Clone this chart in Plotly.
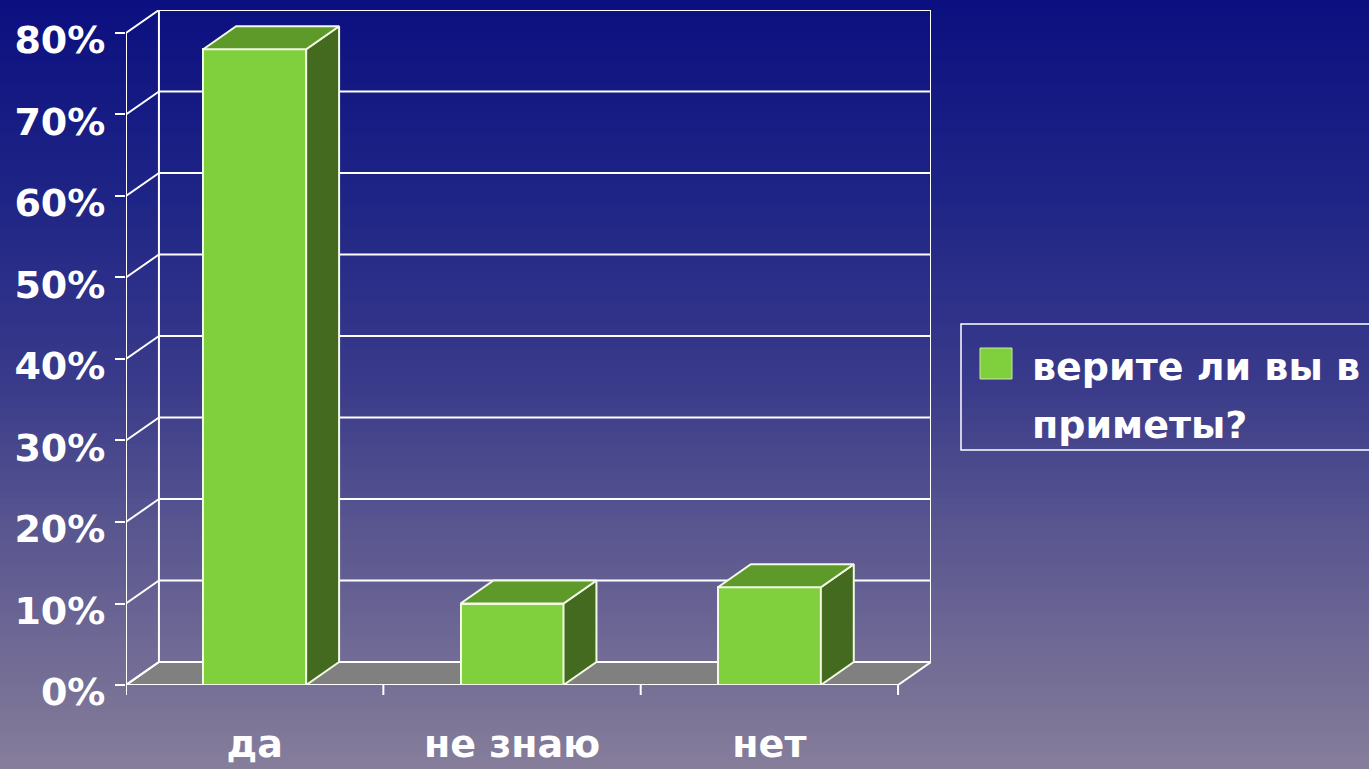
import plotly.graph_objects as go

# ---------------- data ----------------
categories = ["да", "не знаю", "нет"]
values = [78, 10, 12]                      # percent
y_ticks = [0, 10, 20, 30, 40, 50, 60, 70, 80]
y_tick_text = [f"{v}%" for v in y_ticks]
legend_lines = ["верите ли вы в", "приметы?"]

# ---------------- style / geometry ----------------
W, H = 1369, 769
FONT = "DejaVu Sans"
BAR_W = 0.4          # bar width in category units
DX = 0.128           # 3D depth offset (category units)
DY = 2.82            # 3D depth offset (percent units)
YMAX = y_ticks[-1]
NCAT = len(categories)

FRONT = "#80cf3c"
SIDE = "#436a1e"
TOPC = "#5e9a2a"
EDGE = "#f2fae6"
FLOOR = "#808080"
WHITE = "#ffffff"

# plot-area placement (pixels)
PX_LEFT, PX_RIGHT = 126, 931
PX_TOP, PX_BOTTOM = 10, 685


def px(x):
    return x / W


def py(y):
    return 1 - y / H


# background gradient stops (pixel y, rgb)
stops = [(0, (11, 15, 128)), (200, (31, 37, 134)), (380, (57, 58, 138)),
         (540, (91, 88, 144)), (769, (134, 126, 154))]


def grad(y):
    for (y0, c0), (y1, c1) in zip(stops[:-1], stops[1:]):
        if y0 <= y <= y1:
            t = (y - y0) / (y1 - y0)
            return "rgb(%d,%d,%d)" % tuple(round(a + (b - a) * t) for a, b in zip(c0, c1))
    return "rgb(%d,%d,%d)" % stops[-1][1]


shapes = []
STEP = 6
for y0 in range(0, H, STEP):
    shapes.append(dict(type="rect", xref="paper", yref="paper", layer="below",
                       x0=0, x1=1, y0=py(y0 + STEP + 1), y1=py(y0),
                       fillcolor=grad(y0 + STEP / 2), line=dict(width=0)))

LW = 2
# back wall gridlines
for v in y_ticks:
    shapes.append(dict(type="line", xref="x", yref="y", layer="below",
                       x0=DX, x1=NCAT + DX, y0=v + DY, y1=v + DY,
                       line=dict(color=WHITE, width=LW)))
# back wall edges
for xv in (DX, NCAT + DX):
    shapes.append(dict(type="line", xref="x", yref="y", layer="below",
                       x0=xv, x1=xv, y0=DY, y1=YMAX + DY,
                       line=dict(color=WHITE, width=LW)))
# floor
shapes.append(dict(type="path", xref="x", yref="y", layer="below",
                   path=f"M 0 0 L {NCAT} 0 L {NCAT + DX} {DY} L {DX} {DY} Z",
                   fillcolor=FLOOR, line=dict(color=WHITE, width=LW)))
# left side wall diagonals
for v in y_ticks:
    shapes.append(dict(type="line", xref="x", yref="y", layer="below",
                       x0=0, x1=DX, y0=v, y1=v + DY,
                       line=dict(color=WHITE, width=LW)))
# front value axis line
shapes.append(dict(type="line", xref="x", yref="y", layer="below",
                   x0=0, x1=0, y0=0, y1=YMAX, line=dict(color=WHITE, width=LW)))
# category boundary ticks below the floor
for k in range(NCAT + 1):
    shapes.append(dict(type="line", xref="x", yref="paper", layer="above",
                       x0=k, x1=k, y0=py(PX_BOTTOM), y1=py(PX_BOTTOM + 10),
                       line=dict(color=WHITE, width=LW)))

# legend box (manual, to match the large symbol)
shapes.append(dict(type="rect", xref="paper", yref="paper",
                   x0=px(961), x1=px(1380), y0=py(450), y1=py(324),
                   line=dict(color=WHITE, width=1.5), fillcolor="rgba(0,0,0,0)"))
shapes.append(dict(type="rect", xref="paper", yref="paper",
                   x0=px(980), x1=px(1012), y0=py(379), y1=py(348),
                   line=dict(color="#c8e8a8", width=1), fillcolor=FRONT))

fig = go.Figure()

centers = [i + 0.5 for i in range(NCAT)]

# front faces
fig.add_trace(go.Bar(x=centers, y=values, width=BAR_W, name=" ".join(legend_lines),
                     marker=dict(color=FRONT, line=dict(color=EDGE, width=2)),
                     showlegend=False, hoverinfo="skip"))

# side and top faces from the same values
for xc, v in zip(centers, values):
    xr = xc + BAR_W / 2
    xl = xc - BAR_W / 2
    fig.add_trace(go.Scatter(x=[xr, xr + DX, xr + DX, xr, xr],
                             y=[0, DY, v + DY, v, 0],
                             fill="toself", fillcolor=SIDE, mode="lines",
                             line=dict(color=EDGE, width=2),
                             showlegend=False, hoverinfo="skip"))
    fig.add_trace(go.Scatter(x=[xl, xl + DX, xr + DX, xr, xl],
                             y=[v, v + DY, v + DY, v, v],
                             fill="toself", fillcolor=TOPC, mode="lines",
                             line=dict(color=EDGE, width=2),
                             showlegend=False, hoverinfo="skip"))

annotations = [
    dict(xref="paper", yref="paper", x=px(1030), y=py(367), xanchor="left", yanchor="middle",
         text=legend_lines[0], showarrow=False,
         font=dict(family=FONT, size=38, color=WHITE, weight="bold")),
    dict(xref="paper", yref="paper", x=px(1030), y=py(425), xanchor="left", yanchor="middle",
         text=legend_lines[1], showarrow=False,
         font=dict(family=FONT, size=38, color=WHITE, weight="bold")),
]

fig.update_layout(
    width=W, height=H, autosize=False,
    margin=dict(l=0, r=0, t=0, b=0),
    paper_bgcolor=grad(H - 1), plot_bgcolor="rgba(0,0,0,0)",
    showlegend=False,
    shapes=shapes, annotations=annotations,
    bargap=0,
    xaxis=dict(domain=[px(PX_LEFT), px(PX_RIGHT)], range=[0, NCAT + DX],
               tickvals=centers, ticktext=categories, ticks="",
               showgrid=False, zeroline=False, showline=False,
               tickfont=dict(family=FONT, size=38, color=WHITE, weight="bold"),
               ticklabelstandoff=33, automargin=False, fixedrange=True),
    yaxis=dict(domain=[py(PX_BOTTOM), py(PX_TOP)], range=[0, YMAX + DY],
               tickvals=y_ticks, ticktext=y_tick_text,
               ticks="outside", ticklen=10, tickwidth=2, tickcolor=WHITE,
               showgrid=False, zeroline=False, showline=False,
               tickfont=dict(family=FONT, size=38, color=WHITE, weight="bold"),
               ticklabelstandoff=2, ticklabelshift=7,
               automargin=False, fixedrange=True),
)

fig.write_html("out.html", config={"displayModeBar": False},
               post_script="document.body.style.margin='0';document.body.style.overflow='hidden';")
